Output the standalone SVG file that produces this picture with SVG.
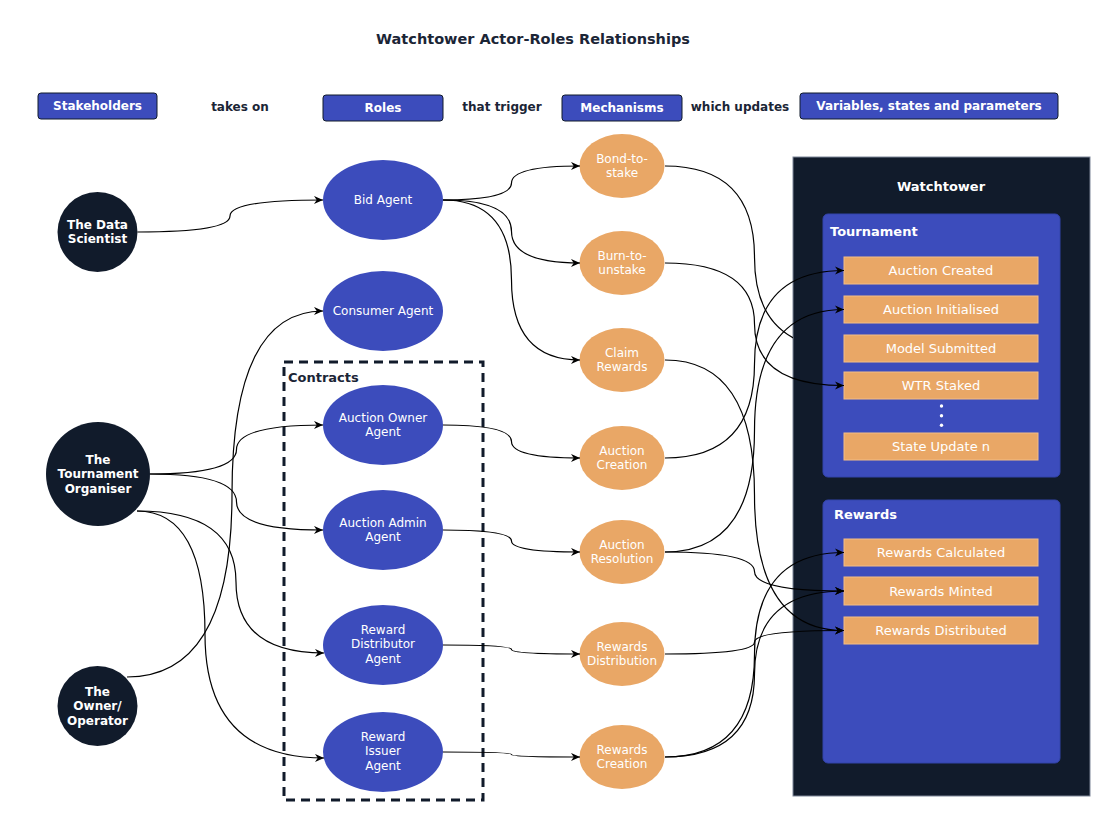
<svg xmlns="http://www.w3.org/2000/svg" width="1120" height="830" viewBox="0 0 1120 830">
<style>
text{font-family:"DejaVu Sans","Liberation Sans",sans-serif;}
.t12{font-size:12px;fill:#ffffff;text-anchor:middle;}
.b12{font-size:12px;font-weight:bold;fill:#ffffff;text-anchor:middle;}
.dk{font-size:12px;font-weight:bold;fill:#1b2536;text-anchor:middle;}
.b13{font-size:13px;font-weight:bold;fill:#ffffff;}
.i13{font-size:13px;fill:#ffffff;text-anchor:middle;}
.hdr{fill:#3c4cbc;stroke:#111b2b;stroke-width:1;}
.stk{fill:#111b2b;}
.role{fill:#3c4cbc;}
.mech{fill:#e9a766;}
.item{fill:#e9a766;stroke:#f3bd86;stroke-width:1;}
.panel{fill:#3c4cbc;stroke:#3344aa;stroke-width:1;}
.edge{fill:none;stroke:#000000;stroke-width:1.2;marker-end:url(#arr);}
</style>
<defs>
<marker id="arr" viewBox="0 0 10 10" refX="10" refY="5" markerWidth="9" markerHeight="9" markerUnits="userSpaceOnUse" orient="auto">
<path d="M0,0.5 L10,5 L0,9.5 L3,5 z" fill="#000000"/>
</marker>
<clipPath id="wtclip"><rect x="0" y="0" width="793" height="830"/></clipPath>
</defs>
<rect x="0" y="0" width="1120" height="830" fill="#ffffff"/>

<text x="533" y="44" style="font-size:14.5px;font-weight:bold;fill:#1b2536;text-anchor:middle;">Watchtower Actor-Roles Relationships</text>

<g id="legend">
<rect class="hdr" x="38" y="93" width="119" height="26" rx="3"/>
<text class="b12" x="97.5" y="110.3">Stakeholders</text>
<text class="dk" x="240" y="111.3">takes on</text>
<rect class="hdr" x="323" y="95" width="120" height="26" rx="3"/>
<text class="b12" x="383" y="112.3">Roles</text>
<text class="dk" x="502" y="111.3">that trigger</text>
<rect class="hdr" x="562" y="95" width="120" height="26" rx="3"/>
<text class="b12" x="622" y="112.3">Mechanisms</text>
<text class="dk" x="740" y="111.3">which updates</text>
<rect class="hdr" x="800" y="93" width="258" height="26" rx="3"/>
<text class="b12" x="929" y="110.3">Variables, states and parameters</text>
</g>

<g id="data-scientist">
<circle class="stk" cx="97.5" cy="232" r="40"/>
<text class="b12" x="97.5" y="228.5">The Data</text>
<text class="b12" x="97.5" y="243">Scientist</text>
</g>
<g id="tournament-organiser">
<circle class="stk" cx="98" cy="474" r="52"/>
<text class="b12" x="98" y="463.8">The</text>
<text class="b12" x="98" y="478.2">Tournament</text>
<text class="b12" x="98" y="492.6">Organiser</text>
</g>
<g id="owner-operator">
<circle class="stk" cx="97.5" cy="706" r="40"/>
<text class="b12" x="97.5" y="695.8">The</text>
<text class="b12" x="97.5" y="710.2">Owner/</text>
<text class="b12" x="97.5" y="724.6">Operator</text>
</g>

<g id="contracts">
<rect x="284" y="362" width="199" height="438" fill="none" stroke="#111b2b" stroke-width="3" stroke-dasharray="9 6"/>
<text x="288" y="381.5" style="font-size:13px;font-weight:bold;fill:#1b2536;">Contracts</text>
</g>

<g id="bid-agent">
<ellipse class="role" cx="383" cy="200" rx="60" ry="40"/>
<text class="t12" x="383" y="204.2">Bid Agent</text>
</g>
<g id="consumer-agent">
<ellipse class="role" cx="383" cy="311" rx="60" ry="40"/>
<text class="t12" x="383" y="315.2">Consumer Agent</text>
</g>
<g id="auction-owner-agent">
<ellipse class="role" cx="383" cy="425" rx="60" ry="40"/>
<text class="t12" x="383" y="422">Auction Owner</text>
<text class="t12" x="383" y="436.4">Agent</text>
</g>
<g id="auction-admin-agent">
<ellipse class="role" cx="383" cy="530" rx="60" ry="40"/>
<text class="t12" x="383" y="527">Auction Admin</text>
<text class="t12" x="383" y="541.4">Agent</text>
</g>
<g id="reward-distributor-agent">
<ellipse class="role" cx="383" cy="645" rx="60" ry="40"/>
<text class="t12" x="383" y="634">Reward</text>
<text class="t12" x="383" y="648.4">Distributor</text>
<text class="t12" x="383" y="662.8">Agent</text>
</g>
<g id="reward-issuer-agent">
<ellipse class="role" cx="383" cy="752" rx="60" ry="40"/>
<text class="t12" x="383" y="741">Reward</text>
<text class="t12" x="383" y="755.4">Issuer</text>
<text class="t12" x="383" y="769.8">Agent</text>
</g>

<g id="bond-to-stake">
<ellipse class="mech" cx="622" cy="166" rx="42.5" ry="32"/>
<text class="t12" x="622" y="163">Bond-to-</text>
<text class="t12" x="622" y="177.4">stake</text>
</g>
<g id="burn-to-unstake">
<ellipse class="mech" cx="622" cy="263" rx="42.5" ry="32"/>
<text class="t12" x="622" y="260">Burn-to-</text>
<text class="t12" x="622" y="274.4">unstake</text>
</g>
<g id="claim-rewards">
<ellipse class="mech" cx="622" cy="360" rx="42.5" ry="32"/>
<text class="t12" x="622" y="357">Claim</text>
<text class="t12" x="622" y="371.4">Rewards</text>
</g>
<g id="auction-creation">
<ellipse class="mech" cx="622" cy="458" rx="42.5" ry="32"/>
<text class="t12" x="622" y="455">Auction</text>
<text class="t12" x="622" y="469.4">Creation</text>
</g>
<g id="auction-resolution">
<ellipse class="mech" cx="622" cy="552" rx="42.5" ry="32"/>
<text class="t12" x="622" y="549">Auction</text>
<text class="t12" x="622" y="563.4">Resolution</text>
</g>
<g id="rewards-distribution">
<ellipse class="mech" cx="622" cy="654" rx="42.5" ry="32"/>
<text class="t12" x="622" y="651">Rewards</text>
<text class="t12" x="622" y="665.4">Distribution</text>
</g>
<g id="rewards-creation">
<ellipse class="mech" cx="622" cy="757" rx="42.5" ry="32"/>
<text class="t12" x="622" y="754">Rewards</text>
<text class="t12" x="622" y="768.4">Creation</text>
</g>

<g id="watchtower">
<rect x="793" y="157" width="297" height="639" fill="#111b2b" stroke="#7d8597" stroke-width="1"/>
<text class="b13" x="941" y="190.5" text-anchor="middle">Watchtower</text>
</g>
<g id="tournament">
<rect class="panel" x="823" y="214" width="237" height="263" rx="5"/>
<text class="b13" x="830" y="235.6">Tournament</text>
</g>
<g id="auction-created">
<rect class="item" x="844" y="257" width="194" height="27"/>
<text class="i13" x="941" y="275.1">Auction Created</text>
</g>
<g id="auction-initialised">
<rect class="item" x="844" y="296" width="194" height="27"/>
<text class="i13" x="941" y="314.1">Auction Initialised</text>
</g>
<g id="model-submitted">
<rect class="item" x="844" y="335" width="194" height="27"/>
<text class="i13" x="941" y="353.1">Model Submitted</text>
</g>
<g id="wtr-staked">
<rect class="item" x="844" y="372" width="194" height="27"/>
<text class="i13" x="941" y="390.1">WTR Staked</text>
</g>
<g id="ellipsis-dots" fill="#ffffff">
<circle cx="941.5" cy="406" r="1.7"/>
<circle cx="941.5" cy="415.7" r="1.7"/>
<circle cx="941.5" cy="425.3" r="1.7"/>
</g>
<g id="state-update-n">
<rect class="item" x="844" y="433" width="194" height="27"/>
<text class="i13" x="941" y="451.1">State Update n</text>
</g>
<g id="rewards">
<rect class="panel" x="823" y="500" width="237" height="263" rx="5"/>
<text class="b13" x="834" y="519.3">Rewards</text>
</g>
<g id="rewards-calculated">
<rect class="item" x="844" y="539" width="194" height="27"/>
<text class="i13" x="941" y="557.1">Rewards Calculated</text>
</g>
<g id="rewards-minted">
<rect class="item" x="844" y="577" width="194" height="28"/>
<text class="i13" x="941" y="595.6">Rewards Minted</text>
</g>
<g id="rewards-distributed">
<rect class="item" x="844" y="617" width="194" height="27"/>
<text class="i13" x="941" y="635.1">Rewards Distributed</text>
</g>

<g id="connectors">
<path class="edge" d="M137.5,232 Q230,232 230,216 Q230,200 323,200"/>
<path class="edge" d="M150,474 Q236.5,474 236.5,449.5 Q236.5,425 323,425"/>
<path class="edge" d="M150,474 Q236.5,474 236.5,502 Q236.5,530 323,530"/>
<path class="edge" d="M137,511 Q236,511 236,582 Q236,653 324,653"/>
<path class="edge" d="M137,511 Q205,511 205,634.5 Q205,758 324,758"/>
<path class="edge" d="M127,677 Q232,677 232,494 Q232,311 323,311"/>
<path class="edge" d="M443,200 Q511.5,200 511.5,183 Q511.5,166 580,166"/>
<path class="edge" d="M443,200 Q511.5,200 511.5,231.5 Q511.5,263 580,263"/>
<path class="edge" d="M443,200 Q511.5,200 511.5,280 Q511.5,360 580,360"/>
<path class="edge" d="M443,425 Q511.5,425 511.5,441.5 Q511.5,458 580,458"/>
<path class="edge" d="M443,530 Q511.5,530 511.5,541 Q511.5,552 580,552"/>
<path class="edge" d="M443,645 Q511.5,645 511.5,649.5 Q511.5,654 580,654"/>
<path class="edge" d="M443,752 Q511.5,752 511.5,754.5 Q511.5,757 580,757"/>
<path d="M665,166 Q754.5,166 754.5,257.25 Q754.5,348.5 844,348.5" fill="none" stroke="#000000" stroke-width="1.2" clip-path="url(#wtclip)"/>
<path class="edge" d="M665,263 Q754.5,263 754.5,324 Q754.5,385.5 844,385.5"/>
<path class="edge" d="M665,360 Q754.5,360 754.5,495 Q754.5,630.5 844,630.5"/>
<path class="edge" d="M665,458 Q754.5,458 754.5,364 Q754.5,270.5 844,270.5"/>
<path class="edge" d="M665,552 Q754.5,552 754.5,430.5 Q754.5,309.5 844,309.5"/>
<path class="edge" d="M665,552 Q754.5,552 754.5,571.5 Q754.5,591 844,591"/>
<path class="edge" d="M665,654 Q754.5,654 754.5,642 Q754.5,630.5 844,630.5"/>
<path class="edge" d="M665,757 Q754.5,757 754.5,654.5 Q754.5,552.5 844,552.5"/>
<path class="edge" d="M665,757 Q754.5,757 754.5,674 Q754.5,591 844,591"/>
</g>
</svg>
